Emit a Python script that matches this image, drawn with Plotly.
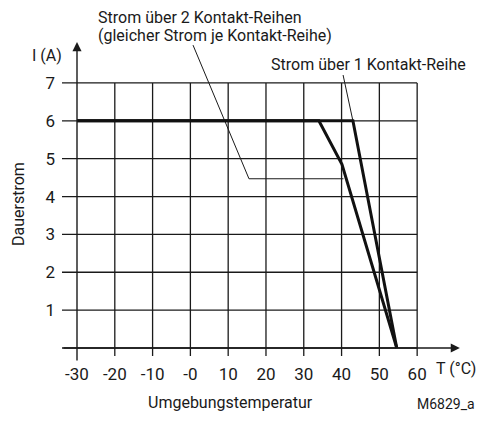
import plotly.graph_objects as go

# ---- data ----
x_ticks = [-30, -20, -10, 0, 10, 20, 30, 40, 50, 60]
x_labels = ["-30", "-20", "-10", "-0", "10", "20", "30", "40", "50", "60"]
y_ticks = [1, 2, 3, 4, 5, 6, 7]
y_labels = ["1", "2", "3", "4", "5", "6", "7"]
grid_y = [0, 1, 2, 3, 4, 5, 6, 7]

temp_1row = [-30, 43, 54.6]
curr_1row = [6, 6, 0]
temp_2row = [-30, 34, 40.1, 54.6]
curr_2row = [6, 6, 4.85, 0]

leader_2_x = [0.7, 15.5, 40.5]
leader_2_y = [8.0, 4.47, 4.47]
leader_1_x = [40.4, 43]
leader_1_y = [7.21, 6]

FONT = "Roboto, Liberation Sans, sans-serif"
X_MIN, X_MAX = -33.97, 71.6
Y_MIN, Y_MAX = -0.37, 8.135
OFF = 8  # page body margin
W, H = 487 - OFF, 425 - 2 * OFF
L, R, T, B = 62 - OFF, 26, 40 - OFF, 63 - OFF


def px(xp):
    return (xp - OFF - L) / (W - L - R)


def py(yp):
    return (H - B - (yp - OFF)) / (H - T - B)


fig = go.Figure()
ink = "#1a1a1a"

# horizontal grid lines (incl. left stubs)
hx, hy = [], []
for g in grid_y:
    hx += [X_MIN, 60, None]
    hy += [g, g, None]
fig.add_trace(go.Scatter(x=hx, y=hy, mode="lines", line=dict(color=ink, width=1.3),
                         hoverinfo="skip", showlegend=False))
# vertical grid lines (incl. bottom tick stubs)
vx, vy = [], []
for t in x_ticks[1:]:
    vx += [t, t, None]
    vy += [-0.21, 7, None]
fig.add_trace(go.Scatter(x=vx, y=vy, mode="lines", line=dict(color=ink, width=1.3),
                         hoverinfo="skip", showlegend=False))

# leaders
fig.add_trace(go.Scatter(x=leader_2_x, y=leader_2_y, mode="lines",
                         line=dict(color=ink, width=1), hoverinfo="skip", showlegend=False))
fig.add_trace(go.Scatter(x=leader_1_x, y=leader_1_y, mode="lines",
                         line=dict(color=ink, width=1), hoverinfo="skip", showlegend=False))

# curves
fig.add_trace(go.Scatter(x=temp_2row, y=curr_2row, mode="lines", name="2 Kontakt-Reihen",
                         line=dict(color="#111", width=3), showlegend=False))
fig.add_trace(go.Scatter(x=temp_1row, y=curr_1row, mode="lines", name="1 Kontakt-Reihe",
                         line=dict(color="#111", width=3), showlegend=False))

ann = []
# axis arrows
ann.append(dict(x=-30, y=8.08, ax=-30, ay=Y_MIN, xref="x", yref="y", axref="x", ayref="y",
                text="", showarrow=True, arrowhead=2, arrowsize=1.3, arrowwidth=1.4,
                arrowcolor=ink))
ann.append(dict(x=71.3, y=0, ax=X_MIN, ay=0, xref="x", yref="y", axref="x", ayref="y",
                text="", showarrow=True, arrowhead=2, arrowsize=1.3, arrowwidth=1.4,
                arrowcolor=ink))


def txt(s, x, y, xanchor="left", size=16, angle=0):
    ann.append(dict(text=s, x=px(x), y=py(y), xref="paper", yref="paper",
                    xanchor=xanchor, yanchor="middle", showarrow=False, textangle=angle,
                    font=dict(family=FONT, size=size, color=ink)))


txt("Strom über 2 Kontakt-Reihen", 96, 17)
txt("(gleicher Strom je Kontakt-Reihe)", 96, 36)
txt("Strom über 1 Kontakt-Reihe", 269, 64)
txt("I (A)", 30, 55)
txt("Dauerstrom", 18, 204, xanchor="center", angle=-90)
txt("Umgebungstemperatur", 230, 402, xanchor="center")
txt("M6829_a", 477, 404, xanchor="right", size=14)
txt("T (°C)", 434, 368)

fig.update_layout(
    width=W, height=H, margin=dict(l=L, r=R, t=T, b=B),
    paper_bgcolor="white", plot_bgcolor="white",
    annotations=ann,
    xaxis=dict(range=[X_MIN, X_MAX], showgrid=False, zeroline=False, showline=False,
               tickvals=x_ticks, ticktext=x_labels, ticks="",
               tickfont=dict(family=FONT, size=17, color=ink)),
    yaxis=dict(range=[Y_MIN, Y_MAX], showgrid=False, zeroline=False, showline=False,
               tickvals=y_ticks, ticktext=y_labels, ticks="", ticklabelstandoff=6,
               tickfont=dict(family=FONT, size=17, color=ink)),
)

fig.write_html("out.html")
